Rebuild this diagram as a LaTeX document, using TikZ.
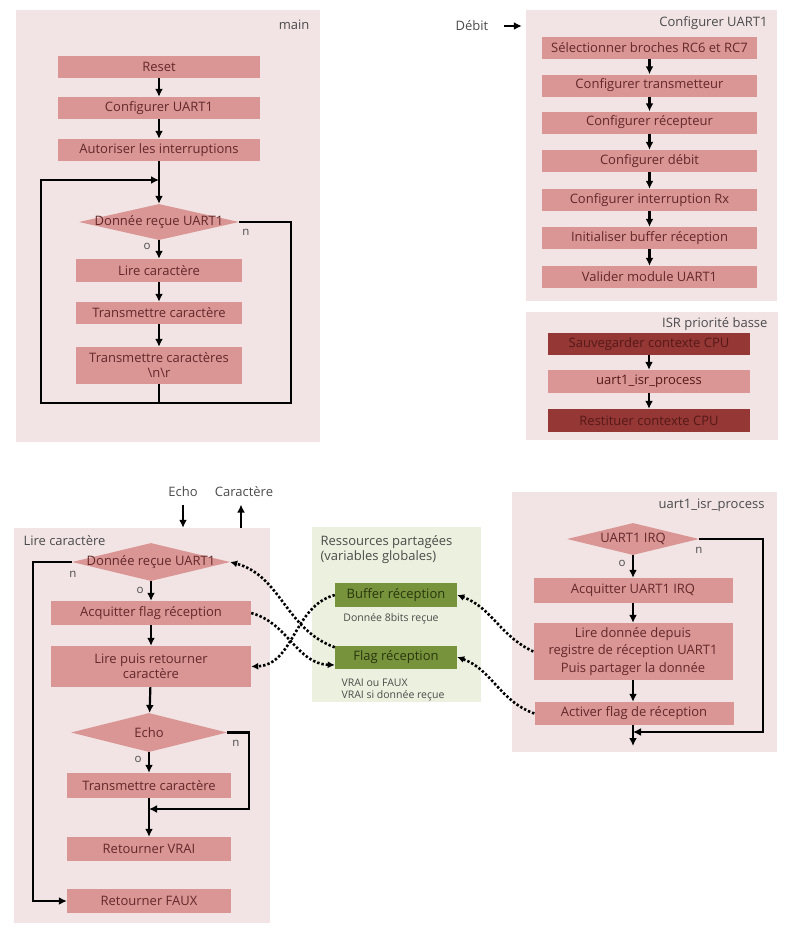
\documentclass[tikz,border=0pt]{standalone}
\usepackage{fontspec}
\setmainfont{Open Sans}
\usetikzlibrary{shapes.geometric,arrows.meta}
\definecolor{panelpink}{RGB}{242,228,228}
\definecolor{boxpink}{RGB}{217,150,148}
\definecolor{boxtext}{RGB}{100,40,40}
\definecolor{darkred}{RGB}{149,55,53}
\definecolor{darktext}{RGB}{85,25,24}
\definecolor{panelgreen}{RGB}{235,241,222}
\definecolor{boxgreen}{RGB}{119,147,60}
\definecolor{greentext}{RGB}{40,55,15}
\definecolor{labelgray}{RGB}{75,75,75}

\begin{document}
\begin{tikzpicture}[x=1pt, y=-1pt, >={Latex[length=8pt,width=8pt]},
        every node/.style={font=\fontsize{13}{15}\selectfont},
        panel/.style={fill=panelpink, inner sep=0pt},
        box/.style={fill=boxpink, text=boxtext, inner sep=0pt, minimum height=22pt, align=center},
        darkbox/.style={box, fill=darkred, text=darktext},
        greenbox/.style={box, fill=boxgreen, text=greentext, minimum width=122pt, minimum height=24pt},
        dia/.style={diamond, fill=boxpink, text=boxtext, inner sep=0pt},
        lbl/.style={text=labelgray},
        yn/.style={text=labelgray, font=\fontsize{11.5}{13}\selectfont},
        flow/.style={line width=2.2pt},
        share/.style={line width=2.6pt, dash pattern=on 2.4pt off 2pt, >={Latex[length=7pt,width=7pt]}}]
    \useasboundingbox (0,0) rectangle (794,937);

    % main
    \node (mainp) [panel, minimum width=304pt, minimum height=432pt] at (168,226) {};
    \node (mainl) [lbl, anchor=east] at (313,25) {main};
    \node (reset) [box, minimum width=202pt] at (159,67) {Reset};
    \node (cfg) [box, minimum width=202pt] at (159,108) {Configurer UART1};
    \node (irqen) [box, minimum width=202pt] at (159,150) {Autoriser les interruptions};
    \node (mrx) [dia, minimum width=160pt, minimum height=36pt] at (159,222) {\makebox[0pt]{Donnée reçue UART1}};
    \node (rdc) [box, minimum width=166pt, minimum height=23pt] at (159,270.5) {Lire caractère};
    \node (txc) [box, minimum width=166pt] at (159,313) {Transmettre caractère};
    \node (txnr) [box, minimum width=166pt, minimum height=37pt] at (159,365.5) {Transmettre caractères\\\textbackslash n\textbackslash r};
    \node (mn) [yn] at (246,232) {n};
    \node (mo) [yn] at (147,246) {o};
    \coordinate (mjoin) at (159,180);
    \coordinate (mbl) at (41,403);
    \coordinate (mbr) at (291,403);
    \draw [flow, ->] (reset) -- (cfg);
    \draw [flow, ->] (cfg) -- (irqen);
    \draw [flow, ->] (irqen) -- (mrx);
    \draw [flow, ->] (mrx) -- (rdc);
    \draw [flow, ->] (rdc) -- (txc);
    \draw [flow, ->] (txc) -- (txnr);
    \draw [flow, ->] (txnr.south) -- (txnr.south |- mbl) -- (mbl) |- (mjoin);
    \draw [flow] (mrx.east) -| (mbr) -- (txnr.south |- mbr);

    % Configurer UART1
    \node (cfgp) [panel, minimum width=251pt, minimum height=291pt] at (651.5,155.5) {};
    \node (cfgl) [lbl, anchor=east] at (771,23) {Configurer UART1};
    \node (debit) [lbl] at (472,26) {Débit};
    \draw [flow, ->] ([xshift=12pt]debit.east) -- ([xshift=-4pt]debit.east -| cfgp.west);
    \node (pins) [box, minimum width=215pt] at (649.5,47.5) {Sélectionner broches RC6 et RC7};
    \node (tx) [box, minimum width=215pt] at (649.5,85.5) {Configurer transmetteur};
    \node (rx) [box, minimum width=215pt] at (649.5,122.5) {Configurer récepteur};
    \node (baud) [box, minimum width=215pt] at (649.5,161) {Configurer débit};
    \node (rxint) [box, minimum width=215pt] at (649.5,200) {Configurer interruption Rx};
    \node (buf) [box, minimum width=215pt] at (649.5,238) {Initialiser buffer réception};
    \node (en) [box, minimum width=215pt] at (649.5,277) {Valider module UART1};
    \draw [flow, ->] (pins) -- (tx);
    \draw [flow, ->] (tx) -- (rx);
    \draw [flow, ->] (rx) -- (baud);
    \draw [flow, ->] (baud) -- (rxint);
    \draw [flow, ->] (rxint) -- (buf);
    \draw [flow, ->] (buf) -- (en);

    % ISR
    \node (isrp) [panel, minimum width=252pt, minimum height=128pt] at (652,376) {};
    \node (isrl) [lbl, anchor=east] at (771,324) {ISR priorité basse};
    \node (save) [darkbox, minimum width=202pt] at (649,344) {Sauvegarder contexte CPU};
    \node (proc) [box, minimum width=202pt, minimum height=23pt, text=darktext] at (649,381.5) {uart1\_isr\_process};
    \node (rest) [darkbox, minimum width=202pt, minimum height=23pt] at (649,420.5) {Restituer contexte CPU};
    \draw [flow, ->] (save) -- (proc);
    \draw [flow, ->] (proc) -- (rest);

    % Lire caractere
    \node (lcp) [panel, minimum width=256pt, minimum height=395pt] at (142,725.5) {};
    \node (lcl) [lbl, anchor=west] at (20,541) {Lire caractère};
    \node (echo) [lbl] at (183,492) {Echo};
    \node (car) [lbl] at (244,492) {Caractère};
    \draw [flow, ->] ([yshift=-4pt]echo.south) -- (echo.south |- lcp.north);
    \draw [flow, ->] ([xshift=-3pt]car.south |- lcp.north) -- ([xshift=-3pt, yshift=-4pt]car.south);
    \node (lrx) [dia, minimum width=158pt, minimum height=38pt] at (151,562) {\makebox[0pt]{Donnée reçue UART1}};
    \node (ack) [box, minimum width=200pt, minimum height=24pt] at (151,613) {Acquitter flag réception};
    \node (ret) [box, minimum width=200pt, minimum height=41pt] at (151,666.5) {Lire puis retourner\\caractère};
    \node (echod) [dia, minimum width=156pt, minimum height=39pt] at (149,732.5) {\makebox[0pt]{Echo}};
    \node (etx) [box, minimum width=164pt, minimum height=25pt] at (149,785.5) {Transmettre caractère};
    \node (vrai) [box, minimum width=164pt, minimum height=24pt] at (149,849) {Retourner VRAI};
    \node (faux) [box, minimum width=164pt, minimum height=24pt] at (149,901) {Retourner FAUX};
    \node (ln) [yn] at (73,574) {n};
    \node (lo) [yn] at (140,590) {o};
    \node (en2) [yn] at (236,743) {n};
    \node (eo) [yn] at (138,759) {o};
    \coordinate (lnl) at (33,562);
    \coordinate (ler) at (249,809);
    \draw [flow, ->] (lrx) -- (ack);
    \draw [flow, ->] (ack) -- (ret);
    \draw [flow, ->] (ret) -- (echod);
    \draw [flow, ->] (echod) -- (etx);
    \draw [flow, ->] (etx) -- (vrai);
    \draw [flow, ->] (lrx.west) -- (lnl) |- (faux.west);
    \draw [flow, ->] (echod.east) -| (ler) -- (ler -| etx.south);

    % ressources partagees
    \node (shp) [fill=panelgreen, inner sep=0pt, minimum width=169pt, minimum height=175pt] at (396.5,614.5) {};
    \node (shl) [lbl, anchor=north west, align=left] at (317,532) {Ressources partagées\\(variables globales)};
    \node (rxbuf) [greenbox] at (396,595) {Buffer réception};
    \node (rxbufl) [lbl, font=\fontsize{10.5}{13}\selectfont] at (391,619) {Donnée 8bits reçue};
    \node (rxflag) [greenbox, minimum height=23pt] at (396,657) {Flag réception};
    \node (rxflagl) [lbl, anchor=north west, align=left, font=\fontsize{10.5}{12}\selectfont] at (338,675) {VRAI ou FAUX\\VRAI si donnée reçue};

    % uart1_isr_process
    \node (ipp) [panel, minimum width=265pt, minimum height=260pt] at (644.5,622) {};
    \node (ipl) [lbl, anchor=east] at (768,505) {uart1\_isr\_process};
    \node (irqd) [dia, minimum width=132pt, minimum height=32pt] at (633,539) {\makebox[0pt]{UART1 IRQ}};
    \node (ackirq) [box, minimum width=199pt, minimum height=25pt] at (633,590.5) {Acquitter UART1 IRQ};
    \node (rdd) [box, minimum width=199pt, minimum height=57pt, font=\fontsize{13}{17.5}\selectfont] at (633,651.5) {Lire donnée depuis\\registre de réception UART1\\Puis partager la donnée};
    \node (setf) [box, minimum width=199pt, minimum height=23pt] at (634,713.5) {Activer flag de réception};
    \node (in) [yn] at (699,550) {n};
    \node (io) [yn] at (622,563) {o};
    \coordinate (ijoin) at (763,732);
    \coordinate (iend) at (633,746);
    \draw [flow, ->] (irqd) -- (ackirq);
    \draw [flow, ->] (ackirq) -- (rdd);
    \draw [flow, ->] (rdd) -- (rdd |- setf.north);
    \draw [flow, ->] (irqd.east) -| (ijoin) -- (ijoin -| iend);
    \draw [flow, ->] (iend |- setf.south) -- (iend);

    % acces aux ressources
    \draw [share, ->] ([yshift=-2pt]rxflag.north west) to [out=160, in=-15] (lrx.east);
    \draw [share, ->] (ack.east) to [out=-15, in=178] ([yshift=-8pt]rxflag.west);
    \draw [share, ->] (rxbuf.west) to [out=-165, in=2] (ret.east);
    \draw [share, ->] (rdd.west) to [out=155, in=-20] (rxbuf.east);
    \draw [share, ->] (setf.west) to [out=160, in=-20] (rxflag.east);
\end{tikzpicture}
\end{document}
